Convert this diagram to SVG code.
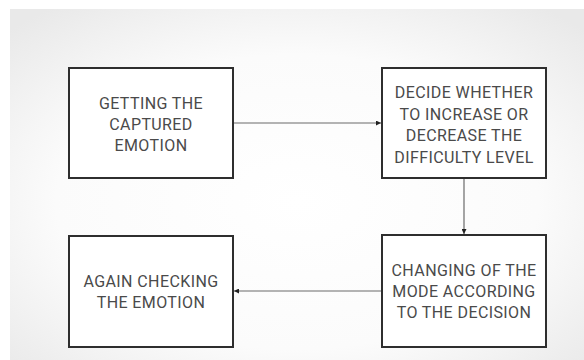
<svg xmlns="http://www.w3.org/2000/svg" width="584" height="360" viewBox="0 0 584 360">
  <defs>
    <radialGradient id="bg" cx="50%" cy="55%" r="70%">
      <stop offset="0" stop-color="#ffffff"/>
      <stop offset="0.6" stop-color="#fbfbfb"/>
      <stop offset="1" stop-color="#e9e9e9"/>
    </radialGradient>
    <marker id="arr" viewBox="0 0 6 6" refX="6" refY="3" markerWidth="5" markerHeight="5" orient="auto" markerUnits="userSpaceOnUse">
      <path d="M0,0 L6,3 L0,6 Z" fill="#222"/>
    </marker>
    <style>
      .box { fill: #ffffff; stroke: #2e2e2e; stroke-width: 2; }
      .lbl { font-family: Roboto, "Liberation Sans", sans-serif; font-size: 16px; letter-spacing: 0.4px; fill: #4a4a4a; text-anchor: middle; }
      .conn { stroke: #6a6a6a; stroke-width: 1.2; fill: none; marker-end: url(#arr); }
    </style>
  </defs>
  <rect x="0" y="0" width="584" height="360" fill="#ffffff"/>
  <rect x="10" y="9" width="574" height="351" fill="url(#bg)"/>

  <g id="node-getting">
    <rect class="box" x="69" y="68" width="164" height="110"/>
    <text class="lbl" x="151" y="109">GETTING THE</text>
    <text class="lbl" x="151" y="130">CAPTURED</text>
    <text class="lbl" x="151" y="151">EMOTION</text>
  </g>

  <g id="node-decide">
    <rect class="box" x="382" y="68" width="164" height="110"/>
    <text class="lbl" x="464" y="98">DECIDE WHETHER</text>
    <text class="lbl" x="464" y="119.5">TO INCREASE OR</text>
    <text class="lbl" x="464" y="141">DECREASE THE</text>
    <text class="lbl" x="464" y="162.5">DIFFICULTY LEVEL</text>
  </g>

  <g id="node-changing">
    <rect class="box" x="382" y="235" width="164" height="112"/>
    <text class="lbl" x="464" y="276">CHANGING OF THE</text>
    <text class="lbl" x="464" y="297">MODE ACCORDING</text>
    <text class="lbl" x="464" y="318">TO THE DECISION</text>
  </g>

  <g id="node-again">
    <rect class="box" x="69" y="236" width="164" height="111"/>
    <text class="lbl" x="151" y="287">AGAIN CHECKING</text>
    <text class="lbl" x="151" y="308">THE EMOTION</text>
  </g>

  <g id="connectors">
    <line class="conn" x1="234" y1="123" x2="381" y2="123"/>
    <line class="conn" x1="464" y1="179" x2="464" y2="234"/>
    <line class="conn" x1="381" y1="291" x2="234" y2="291"/>
  </g>
</svg>
